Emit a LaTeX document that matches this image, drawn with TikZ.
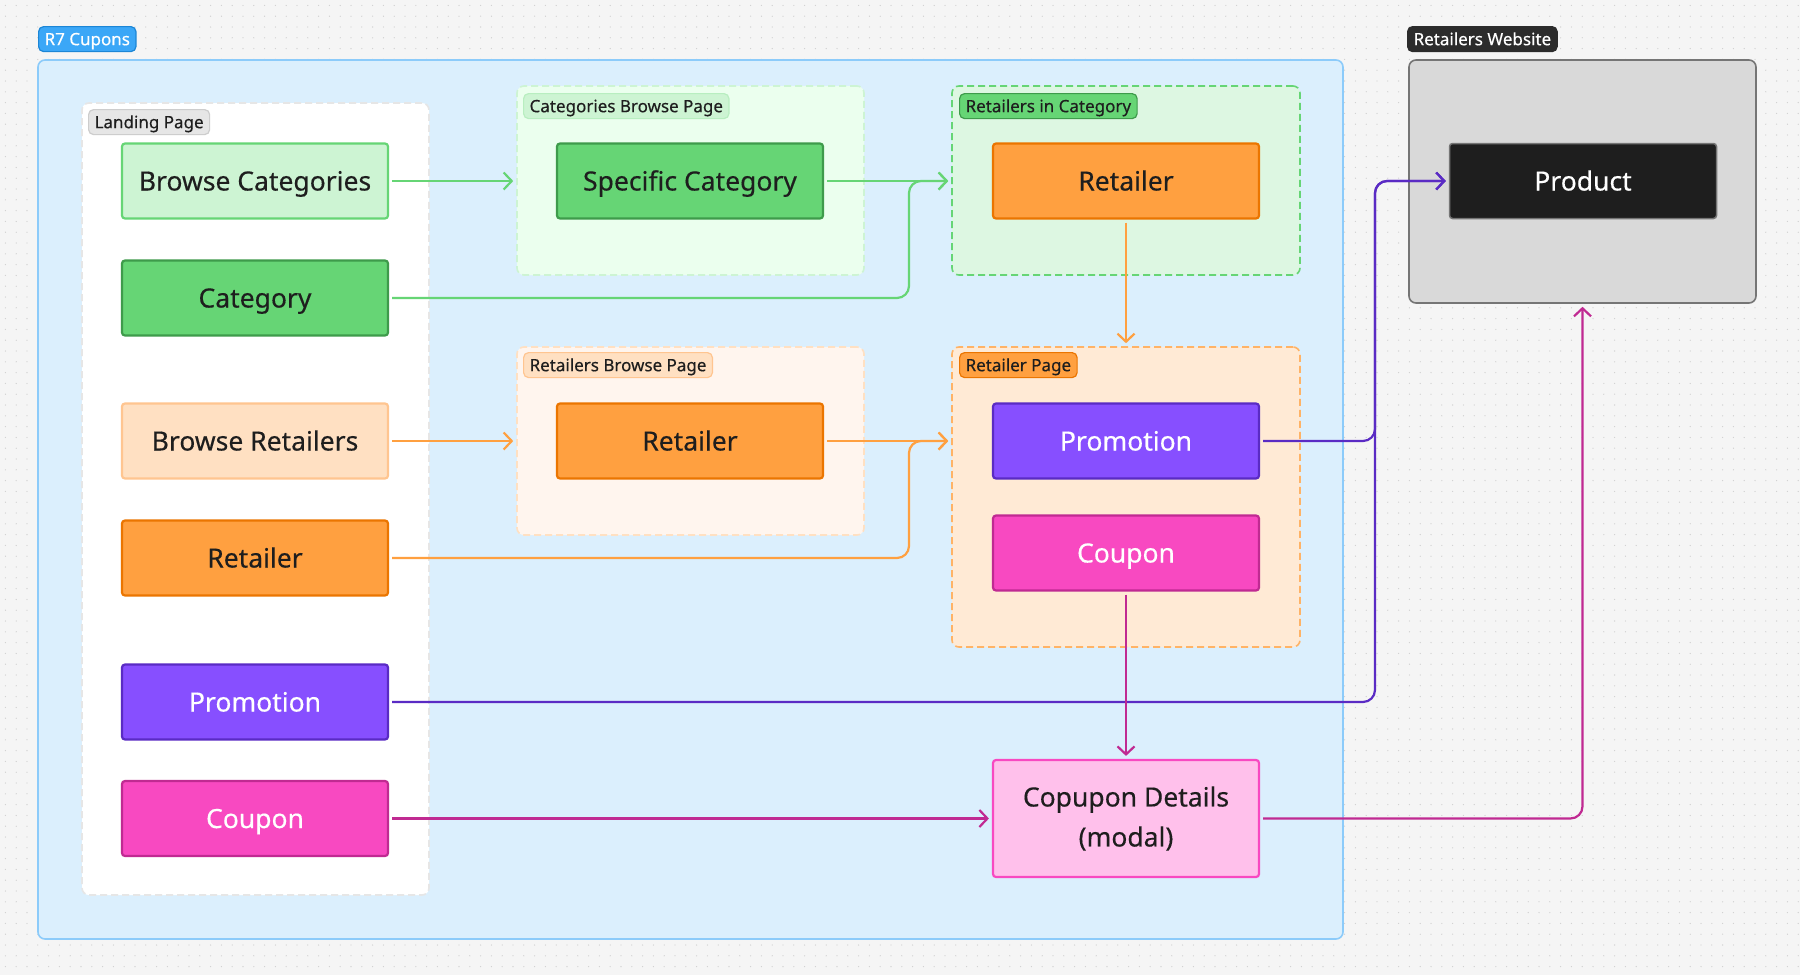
\documentclass[tikz,border=0pt]{standalone}
\usepackage{fontspec}
\setmainfont{Noto Sans}[UprightFeatures={FakeBold=0.35}]
\usetikzlibrary{arrows.meta,calc}
\definecolor{bgc}{HTML}{F5F5F5}
\definecolor{dotc}{HTML}{CFCFCF}
\definecolor{txt}{HTML}{1E1E1E}
\definecolor{bluefill}{HTML}{DBEFFD}
\definecolor{blueline}{HTML}{8CCBFA}
\definecolor{bluetag}{HTML}{3BA7F7}
\definecolor{bluetagline}{HTML}{1C86D6}
\definecolor{grayline}{HTML}{E6E6E6}
\definecolor{graytag}{HTML}{E6E6E6}
\definecolor{graytagline}{HTML}{CDCDCD}
\definecolor{lgreen}{HTML}{CDF4D3}
\definecolor{green}{HTML}{66D575}
\definecolor{dgreen}{HTML}{3E9B4B}
\definecolor{vlgreen}{HTML}{EBFFEE}
\definecolor{mgreen}{HTML}{DDF7E2}
\definecolor{orange}{HTML}{FFA040}
\definecolor{dorange}{HTML}{EB7500}
\definecolor{lorange}{HTML}{FFE0C2}
\definecolor{lorangeline}{HTML}{FFC590}
\definecolor{vlorange}{HTML}{FFF5EE}
\definecolor{morange}{HTML}{FFEAD5}
\definecolor{morangeline}{HTML}{FFB366}
\definecolor{purple}{HTML}{874FFF}
\definecolor{dpurple}{HTML}{5A2BC4}
\definecolor{pink}{HTML}{F849C1}
\definecolor{dpink}{HTML}{C02A92}
\definecolor{lpink}{HTML}{FFC0EB}
\definecolor{webfill}{HTML}{D9D9D9}
\definecolor{webline}{HTML}{757575}
\definecolor{black1}{HTML}{1E1E1E}
\definecolor{black2}{HTML}{2C2C2C}
\tikzset{
  boxbase/.style={draw, line width=2.2pt, rounded corners=3pt, minimum width=266pt, minimum height=75pt,
    inner sep=0pt, font=\fontsize{26.5}{40}\selectfont, text=txt},
  box/.style={boxbase, text height=19pt, text depth=0pt},
  twolinebox/.style={boxbase, align=center},
  frame/.style={rounded corners=7pt, line width=1.6pt, dash pattern=on 7pt off 4pt, inner sep=0pt},
  solidframe/.style={rounded corners=7pt, line width=1.6pt, inner sep=0pt},
  tag/.style={draw, line width=1.2pt, rounded corners=5pt, anchor=north west, minimum height=25pt,
    inner xsep=6pt, inner ysep=0pt, font=\fontsize{17}{20}\selectfont, text=txt,
    text height=12.2pt, text depth=0pt},
  conn/.style={line width=2.2pt, rounded corners=12pt,
    -{Straight Barb[length=8pt,width=17pt,line width=2.2pt]}, shorten <=3pt, shorten >=3pt}
}
\begin{document}
\begin{tikzpicture}[x=1pt,y=-1pt]
\fill[bgc] (0,0) rectangle (1800,975);
\useasboundingbox (0,0) rectangle (1800,975);
\foreach \i in {0,...,89}
  \draw[dotc, line width=1.3pt, line cap=round, dash pattern=on 0pt off 10.8pt]
    (5.4,{5.4+10.8*\i}) -- (1800,{5.4+10.8*\i});

% main frames
\node[solidframe, draw=blueline, fill=bluefill, minimum width=1305pt, minimum height=879pt] (r7) at (690.5,499.5) {};
\node[tag, draw=bluetagline, fill=bluetag, text=white] (r7tag) at (38,26) {R7 Cupons};
\node[solidframe, draw=webline, fill=webfill, minimum width=347pt, minimum height=243pt] (rw) at (1582.5,181.5) {};
\node[tag, draw=black2, fill=black2, text=white] (rwtag) at (1407,26) {Retailers Website};

\node[frame, draw=grayline, fill=white, minimum width=347pt, minimum height=792pt] (lp) at (255.5,499) {};
\node[tag, draw=graytagline, fill=graytag] (lptag) at (88,109) {Landing Page};

\node[frame, draw=lgreen, fill=vlgreen, minimum width=347pt, minimum height=189pt] (cbp) at (690.5,180.5) {};
\node[tag, draw=lgreen!80!green, fill=lgreen] (cbptag) at (523,93) {Categories Browse Page};

\node[frame, draw=green, fill=mgreen, minimum width=348pt, minimum height=189pt] (ric) at (1126,180.5) {};
\node[tag, draw=dgreen, fill=green] (rictag) at (959,93) {Retailers in Category};

\node[frame, draw=lorange, fill=vlorange, minimum width=347pt, minimum height=188pt] (rbp) at (690.5,441) {};
\node[tag, draw=lorangeline, fill=lorange] (rbptag) at (523,352) {Retailers Browse Page};

\node[frame, draw=morangeline, fill=morange, minimum width=348pt, minimum height=300pt] (rp) at (1126,497) {};
\node[tag, draw=dorange, fill=orange] (rptag) at (959,352) {Retailer Page};

% landing boxes
\node[box, draw=green, fill=lgreen] (bc) at (255,181) {Browse Categories};
\node[box, draw=dgreen, fill=green] (cat) at (255,298) {Category};
\node[box, draw=lorangeline, fill=lorange] (br) at (255,441) {Browse Retailers};
\node[box, draw=dorange, fill=orange] (ret) at (255,558) {Retailer};
\node[box, draw=dpurple, fill=purple, text=white] (promo) at (255,702) {Promotion};
\node[box, draw=dpink, fill=pink, text=white] (coup) at (255,818.5) {Coupon};

% column 2
\node[box, draw=dgreen, fill=green] (sc) at (690,181) {Specific Category};
\node[box, draw=dorange, fill=orange] (rb) at (690,441) {Retailer};

% column 3
\node[box, draw=dorange, fill=orange] (ricr) at (1126,181) {Retailer};
\node[box, draw=dpurple, fill=purple, text=white] (rppromo) at (1126,441) {Promotion};
\node[box, draw=dpink, fill=pink, text=white] (rpcoup) at (1126,553) {Coupon};
\node[twolinebox, draw=pink, fill=lpink, minimum height=117pt] (cd) at (1126,818.5) {Copupon Details\\(modal)};

% product
\node[box, draw=webline, line width=1.5pt, fill=black1, text=white, minimum width=267pt] (prod) at (1583,181) {Product};

% junction coordinates
\coordinate (jg) at (909,181);
\coordinate (jo) at (909,441);
\coordinate (jp) at (1375,181);
\coordinate (jm) at (1582.5,818.5);

% green connectors
\draw[conn, green] (bc.east) -- (bc.east -| cbp.west);
\draw[conn, green] (sc.east) -- (sc.east -| ric.west);
\draw[conn, green] (cat.east) -- (cat.east -| jg) -- (jg) -- (sc.east -| ric.west);

% orange connectors
\draw[conn, orange] (ricr.south) -- (rp.north);
\draw[conn, orange] (br.east) -- (br.east -| rbp.west);
\draw[conn, orange] (rb.east) -- (rb.east -| rp.west);
\draw[conn, orange] (ret.east) -- (ret.east -| jo) -- (jo) -- (rb.east -| rp.west);

% purple connectors
\draw[conn, dpurple] (rppromo.east) -- (rppromo.east -| jp) -- (jp) -- (prod.west);
\draw[conn, dpurple] (promo.east) -- (promo.east -| jp) -- (jp) -- (prod.west);

% magenta connectors
\draw[conn, dpink] (rpcoup.south) -- (cd.north);
\draw[conn, dpink] (coup.east) -- (coup.east -| cd.west);
\draw[conn, dpink] (cd.east) -- (jm) -- (rw.south);
\end{tikzpicture}
\end{document}
